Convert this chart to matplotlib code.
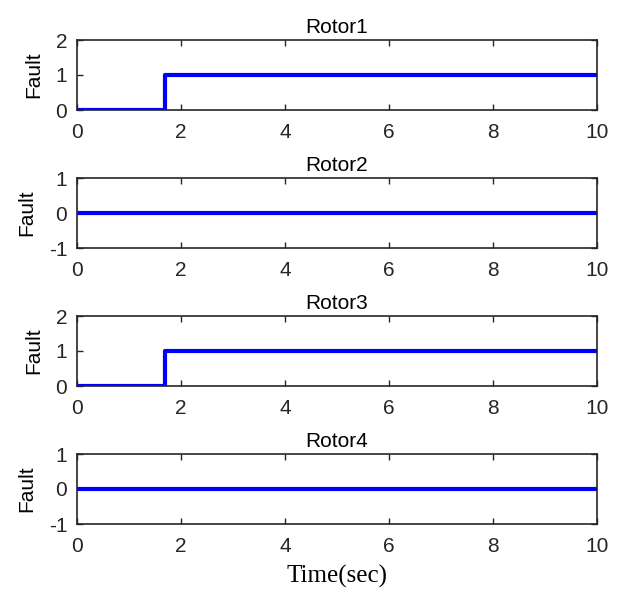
import numpy as np
import matplotlib.pyplot as plt
import matplotlib

matplotlib.rc('font', family='Liberation Sans', size=15)
matplotlib.rc('axes', edgecolor='#262626', linewidth=1.2, unicode_minus=False)
matplotlib.rc('xtick', color='#262626', direction='in', top=True)
matplotlib.rc('ytick', color='#262626', direction='in', right=True)

# Fault flags per rotor (step times in seconds)
time = [0.0, 1.7, 10.0]
rotor_titles = ['Rotor1', 'Rotor2', 'Rotor3', 'Rotor4']
fault_rotor1 = [0, 1, 1]
fault_rotor2 = [0, 0, 0]
fault_rotor3 = [0, 1, 1]
fault_rotor4 = [0, 0, 0]
ylims = [(0, 2), (-1, 1), (0, 2), (-1, 1)]

faults = [fault_rotor1, fault_rotor2, fault_rotor3, fault_rotor4]

fig = plt.figure(figsize=(6.2, 6.01), dpi=100)
W, H = 620, 601
left, right = 77, 597
tops = [40, 178, 316, 454]
height = 70

for i in range(4):
    ax = fig.add_axes([left / W, 1 - (tops[i] + height) / H,
                       (right - left) / W, height / H])
    ax.plot(time, faults[i], drawstyle='steps-post', color='#0000ff', linewidth=3)
    ax.set_xlim(0, 10)
    ax.set_ylim(*ylims[i])
    ax.set_xticks([0, 2, 4, 6, 8, 10])
    ax.set_yticks(np.arange(ylims[i][0], ylims[i][1] + 1, 1))
    ax.tick_params(axis='x', length=4, width=1, labelsize=15, pad=9)
    ax.tick_params(axis='y', length=4, width=1, labelsize=15, pad=7)
    ax.set_title(rotor_titles[i], fontsize=15, pad=5)
    ax.set_ylabel('Fault', fontsize=15, labelpad=9)
    if i == 3:
        ax.set_xlabel('Time(sec)', fontsize=18, family='Liberation Serif', labelpad=7)

plt.savefig('out.png', dpi=100)
